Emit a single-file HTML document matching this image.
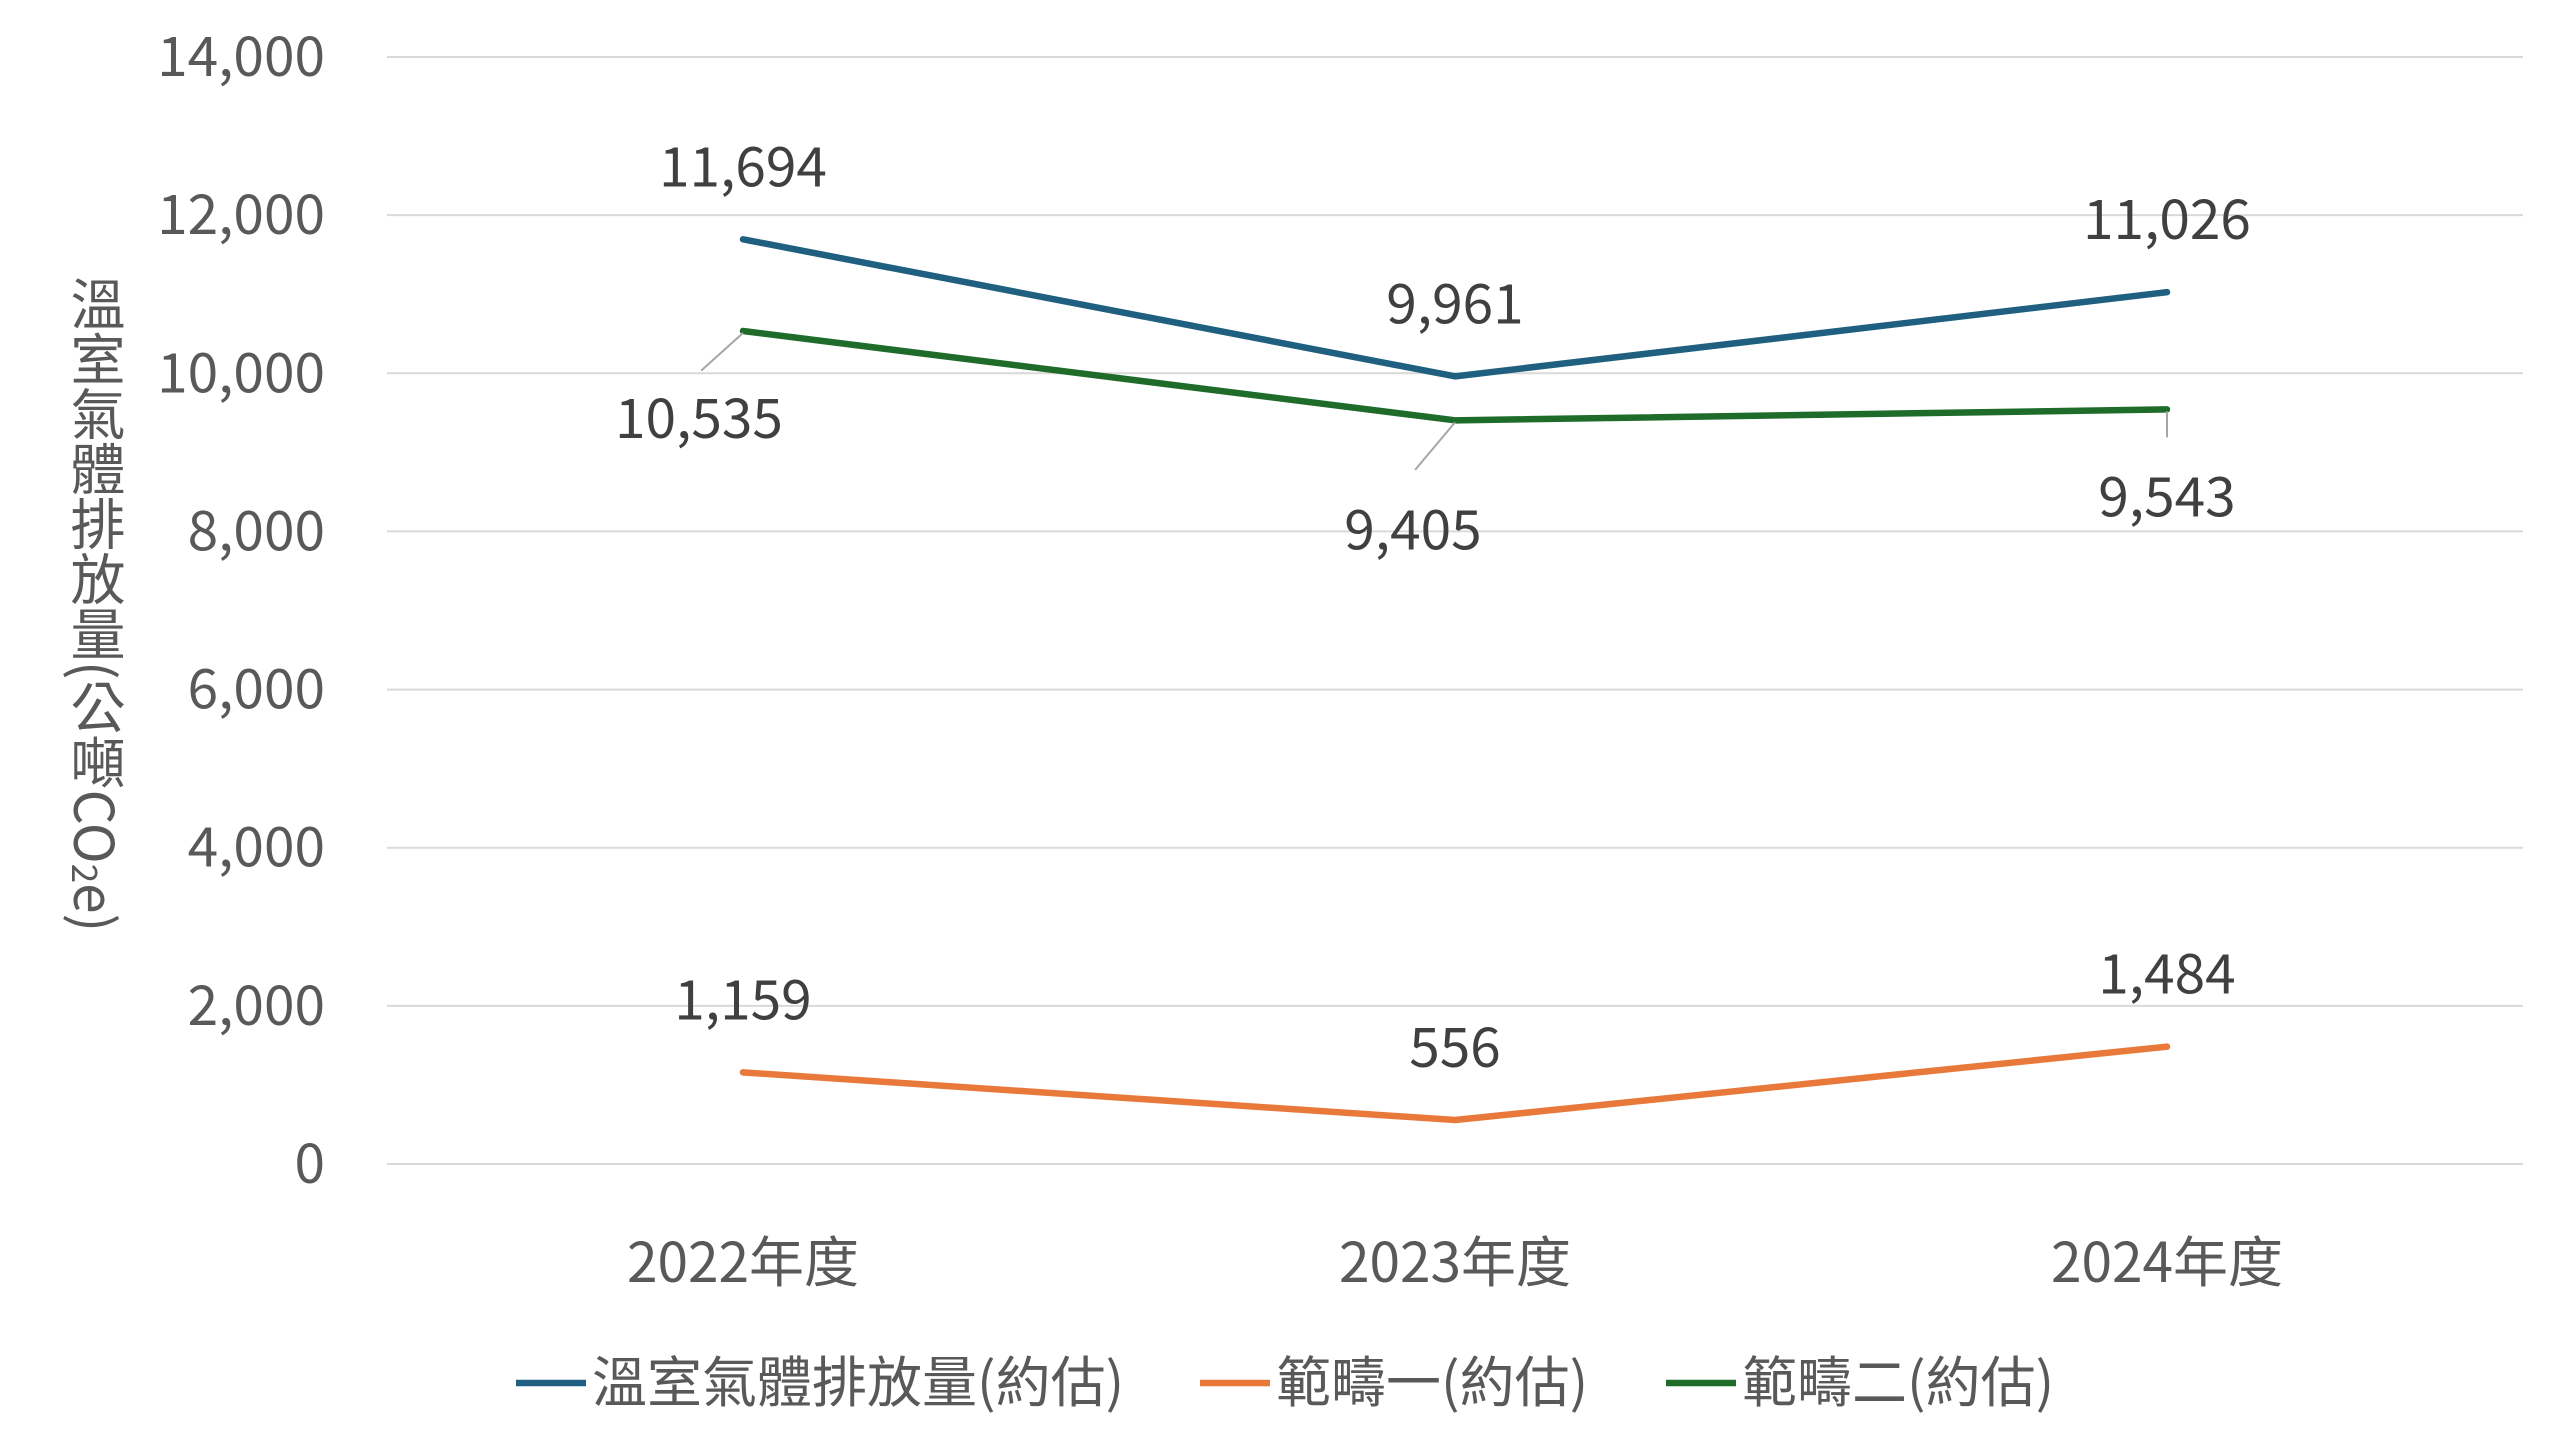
<!DOCTYPE html>
<html><head><meta charset="utf-8"><style>
html,body{margin:0;padding:0;background:#fff;}
svg{display:block;font-family:"Noto Sans CJK TC","Liberation Sans",sans-serif;}
#ytitle{position:absolute;left:56px;top:276px;height:700px;writing-mode:vertical-rl;font-family:"Noto Sans CJK TC","Liberation Sans",sans-serif;font-size:55px;color:#595959;line-height:60px;}
</style></head><body>
<div id="ytitle">溫室氣體排放量(公噸CO<sub style="font-size:35px">2</sub>e)</div>
<svg id="chart" width="2560" height="1453" viewBox="0 0 2560 1453"></svg>
<script>
const categories=["2022年度","2023年度","2024年度"];
const seriesNames=["溫室氣體排放量(約估)","範疇一(約估)","範疇二(約估)"];
const totalValues=[11694,9961,11026];
const scope1Values=[1159,556,1484];
const scope2Values=[10535,9405,9543];
const yTicks=[0,2000,4000,6000,8000,10000,12000,14000];
const colors=["#1f5f7f","#e8793a","#1e6b2a"];
const NS="http://www.w3.org/2000/svg";
const svg=document.getElementById('chart');
const x0=387,x1=2523,yTop=57,yBot=1164,yMax=14000;
function xs(i){return x0+(x1-x0)*(i+0.5)/categories.length;}
function ys(v){return yBot-(yBot-yTop)*v/yMax;}
function mk(tag,attrs){const e=document.createElementNS(NS,tag);for(const k in attrs)e.setAttribute(k,attrs[k]);svg.appendChild(e);return e;}
yTicks.forEach(t=>{
 const g=mk('line',{x1:x0,x2:x1,y1:ys(t),y2:ys(t),stroke:'#d9d9d9','stroke-width':2});
 
 
 const l=mk('text',{x:325,y:ys(t)+19,'text-anchor':'end','font-size':55,fill:'#595959'});
 l.textContent=t.toLocaleString('en-US');
 
 
});
categories.forEach((c,i)=>{
 const l=mk('text',{x:xs(i),y:1282,'text-anchor':'middle','font-size':55,fill:'#595959'});
 l.textContent=c;
 
 
});
const all=[totalValues,scope1Values,scope2Values];
all.forEach((vals,s)=>{
 const p=mk('polyline',{points:vals.map((v,i)=>xs(i)+','+ys(v)).join(' '),fill:'none',stroke:colors[s],'stroke-width':6.5,'stroke-linejoin':'round','stroke-linecap':'round'});
 
 
 vals.forEach((v,i)=>{
  let lx=xs(i),ly;
  if(s<2){ly=ys(v)-72+19;}
  else{
   const dx=[-44,-42,0][i],dy=[88,110,88][i];
   lx=xs(i)+dx;ly=ys(v)+dy+19;
   const ld=mk('line',{x1:xs(i),y1:ys(v)+2,x2:xs(i)+(i==2?0:dx*0.95),y2:ys(v)+(i==2?28:dy*0.45),stroke:'#a6a6a6','stroke-width':2});
   
   
  }
  const t=mk('text',{x:lx,y:ly,'text-anchor':'middle','font-size':55,fill:'#404040'});
  t.textContent=v.toLocaleString('en-US');
  
  
 });
});
const legX=[516,1200,1666];
seriesNames.forEach((n,s)=>{
 const l=mk('line',{x1:legX[s],x2:legX[s]+70,y1:1383,y2:1383,stroke:colors[s],'stroke-width':6.5});
 
 
 const t=mk('text',{x:legX[s]+76,y:1402,'font-size':55,fill:'#595959'});
 t.textContent=n;
 
 
});
</script>
</body></html>
